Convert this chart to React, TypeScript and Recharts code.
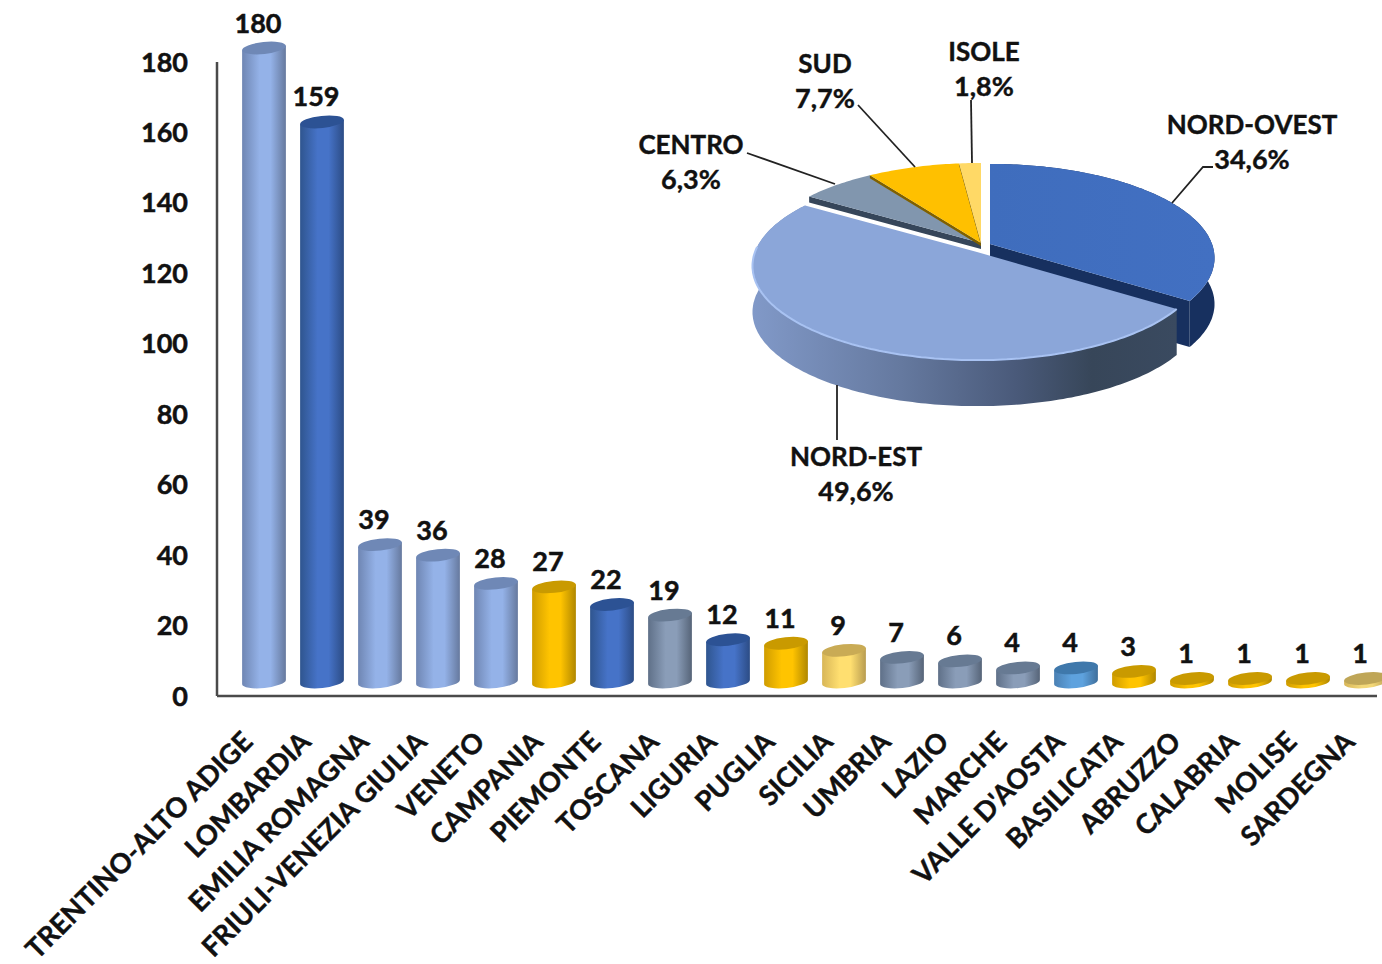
import { Bar, BarChart, LabelList, Pie, PieChart, XAxis, YAxis } from "recharts"

const categories = [
  "TRENTINO-ALTO ADIGE", "LOMBARDIA", "EMILIA ROMAGNA", "FRIULI-VENEZIA GIULIA", "VENETO",
  "CAMPANIA", "PIEMONTE", "TOSCANA", "LIGURIA", "PUGLIA",
  "SICILIA", "UMBRIA", "LAZIO", "MARCHE", "VALLE D'AOSTA",
  "BASILICATA", "ABRUZZO", "CALABRIA", "MOLISE", "SARDEGNA",
]
const values = [180, 159, 39, 36, 28, 27, 22, 19, 12, 11, 9, 7, 6, 4, 4, 3, 1, 1, 1, 1]
const tones = [
  "light", "blue", "light", "light", "light",
  "gold", "blue", "slate", "blue", "gold",
  "pale", "slate", "slate", "slate", "sky",
  "gold", "gold", "gold", "gold", "sand",
]
const yTicks = [0, 20, 40, 60, 80, 100, 120, 140, 160, 180]

const areas = ["NORD-OVEST", "NORD-EST", "CENTRO", "SUD", "ISOLE"]
const shares = [34.6, 49.6, 6.3, 7.7, 1.8]

const barRows = categories.map((name, i) => ({ name, value: values[i], tone: tones[i] }))
const pieRows = areas.map((name, i) => ({ name, value: shares[i] }))

// cylinder colours: edge, centre, far edge, cap
const palette: Record<string, string[]> = {
  light: ["#6f86b3", "#94b2e8", "#66799e", "#6f88b6"],
  blue: ["#2f558f", "#4673c8", "#2c4c85", "#2c5294"],
  gold: ["#cf9c00", "#ffc400", "#b08700", "#c99a00"],
  slate: ["#5f7088", "#8a9db8", "#566478", "#677a93"],
  pale: ["#d8b657", "#ffdf70", "#b89c50", "#c9ab55"],
  sky: ["#4a80b3", "#5ea2de", "#3f6f9c", "#3f78ab"],
  sand: ["#d8b657", "#f3d878", "#b89c50", "#bfa657"],
}

const FONT = "Lato, sans-serif"
const INK = "#111"
const TILT = -6
// the 3D floor sits up and to the right of the drawn axes
const SHIFT_X = 18
const SHIFT_Y = -14

function Cylinder(props: any) {
  const { x, y, width, height, tone } = props
  const rx = width / 2
  const ry = 6
  const cx = x + rx + SHIFT_X
  const top = y + SHIFT_Y
  const bottom = top + height
  const rad = (TILT * Math.PI) / 180
  const ex = rx * Math.cos(rad)
  const ey = rx * Math.sin(rad)
  const body = `M${cx - ex} ${top - ey} L${cx - ex} ${bottom - ey} A${rx} ${ry} ${TILT} 0 0 ${cx + ex} ${bottom + ey} L${cx + ex} ${top + ey} Z`
  return (
    <g>
      <path d={body} fill={`url(#bar-${tone})`} />
      <ellipse cx={cx} cy={top} rx={rx} ry={ry} fill={palette[tone][3]} transform={`rotate(${TILT} ${cx} ${top})`} />
    </g>
  )
}

function ValueLabel(props: any) {
  const { x, y, width, value } = props
  return (
    <text x={x + width / 2 + 12} y={y + SHIFT_Y - 26} textAnchor="middle" dominantBaseline="central" fontFamily={FONT} fontWeight={700} fontSize={27} fill={INK} stroke={INK} strokeWidth={0.5}>
      {value}
    </text>
  )
}

function CategoryTick(props: any) {
  const { x, y, payload } = props
  const ax = x + 1
  const ay = y + 32
  return (
    <text x={ax} y={ay} textAnchor="end" dominantBaseline="central" transform={`rotate(-45 ${ax} ${ay})`} fontFamily={FONT} fontWeight={700} fontSize={27.4} fill={INK} stroke={INK} strokeWidth={0.4}>
      {payload.value}
    </text>
  )
}

// pie seen from above: circle points pushed through a simple perspective
const PIE_RY = 92
const PIE_K = 0.149
const PIE_DEPTH = 46
const sliceOffset = [[9, 1], [-4, 9], [0, 0], [0, 0], [0, 0]]
const sliceTop = ["url(#pie-top-blue)", "#8ba6d9", "#8196ae", "#ffc000", "#ffd966"]
const sliceSide = ["#17305f", "url(#pie-wall)", "#36465a", "#7f6000", "#6a5a25"]
const sideDepth = [PIE_DEPTH, PIE_DEPTH, 6, 3, 2]

function project(cx: number, cy: number, r: number, deg: number) {
  const a = (deg * Math.PI) / 180
  const u = Math.sin(a)
  const v = -Math.cos(a)
  const w = 1 - PIE_K * v
  return [cx + (r * u) / w, cy + (PIE_RY * v) / w]
}

function rimPoints(cx: number, cy: number, r: number, from: number, to: number) {
  const pts: number[][] = []
  const steps = Math.max(4, Math.ceil(to - from))
  for (let i = 0; i <= steps; i++) pts.push(project(cx, cy, r, from + ((to - from) * i) / steps))
  return pts
}

const toPath = (pts: number[][]) => pts.map((p, i) => `${i ? "L" : "M"}${p[0].toFixed(1)} ${p[1].toFixed(1)}`).join(" ")

function PieSlice(props: any) {
  const { cx, cy, outerRadius, startAngle, endAngle, index } = props
  const [dx, dy] = sliceOffset[index]
  const ox = cx + dx
  const oy = cy + dy
  const from = 90 - startAngle
  const to = 90 - endAngle
  const rim = rimPoints(ox, oy, outerRadius, from, to)
  const depth = sideDepth[index]
  const down = (pts: number[][]) => pts.map((p) => [p[0], p[1] + depth])
  const wall = toPath([...rim, ...down(rim).reverse()]) + " Z"
  const last = rim[rim.length - 1]
  const first = rim[0]
  const big = index < 2
  // the cut face that shows: far edge for the big slices, leading edge for the small ones
  const cutEnd = big ? last : first
  const cut = toPath([[ox, oy], cutEnd, [cutEnd[0], cutEnd[1] + depth], [ox, oy + depth]]) + " Z"
  return (
    <g>
      {big && <path d={wall} fill={sliceSide[index]} />}
      {index !== 1 && <path d={cut} fill={sliceSide[index]} />}
      <path d={toPath([[ox, oy], ...rim]) + " Z"} fill={sliceTop[index]} />
      {index === 1 && <path d={toPath(rim.slice(0, 150))} fill="none" stroke="#a8c2f2" strokeWidth={2} />}
    </g>
  )
}

const calloutText = [[1252, 124], [856, 456], [691, 144], [825, 63], [984, 51]]
const calloutLine = [
  [[1172, 203], [1203, 167], [1213, 167]],
  [[837, 385], [837, 440]],
  [[747, 153], [835, 184]],
  [[858, 105], [915, 167]],
  [[971, 100], [972, 163]],
]

function PieCallout(props: any) {
  const { index, name, value } = props
  const [x, y] = calloutText[index]
  return (
    <g>
      <polyline points={calloutLine[index].map((p) => p.join(",")).join(" ")} fill="none" stroke="#222" strokeWidth={1.8} />
      <text x={x} y={y} textAnchor="middle" dominantBaseline="central" fontFamily={FONT} fontWeight={700} fontSize={26} fill={INK} stroke={INK} strokeWidth={0.4}>
        {name}
      </text>
      <text x={x} y={y + 34} textAnchor="middle" dominantBaseline="central" fontFamily={FONT} fontWeight={700} fontSize={27} fill={INK} stroke={INK} strokeWidth={0.4}>
        {value.toFixed(1).replace(".", ",")}%
      </text>
    </g>
  )
}

export default function App() {
  return (
    <div style={{ position: "absolute", left: 0, top: 0, width: 1382, height: 964, overflow: "hidden", background: "#fff" }}>
      <BarChart width={1382} height={964} data={barRows} barSize={44} margin={{ top: 62, right: 5, bottom: 0, left: 0 }}>
        <defs>
          {Object.keys(palette).map((k) => (
            <linearGradient key={k} id={`bar-${k}`} x1="0" y1="0" x2="1" y2="0">
              <stop offset="0" stopColor={palette[k][0]} />
              <stop offset="0.4" stopColor={palette[k][1]} />
              <stop offset="0.65" stopColor={palette[k][1]} />
              <stop offset="1" stopColor={palette[k][2]} />
            </linearGradient>
          ))}
        </defs>
        <XAxis dataKey="name" interval={0} height={268} tick={<CategoryTick />} tickLine={false} axisLine={{ stroke: "#4a4a4a", strokeWidth: 2.5 }} />
        <YAxis
          width={217}
          domain={[0, 180]}
          ticks={yTicks}
          interval={0}
          tickLine={false}
          tickMargin={23}
          axisLine={{ stroke: "#4a4a4a", strokeWidth: 2.5 }}
          tick={{ fontFamily: FONT, fontWeight: 700, fontSize: 27, fill: INK, stroke: INK, strokeWidth: 0.5 }}
        />
        <Bar dataKey="value" shape={<Cylinder />} isAnimationActive={false}>
          <LabelList dataKey="value" content={<ValueLabel />} />
        </Bar>
      </BarChart>
      <div style={{ position: "absolute", left: 0, top: 0 }}>
        <PieChart width={1382} height={964} margin={{ top: 0, right: 0, bottom: 0, left: 0 }}>
          <defs>
            <linearGradient id="pie-wall" x1="0" y1="0" x2="1" y2="0">
              <stop offset="0" stopColor="#8199c8" />
              <stop offset="0.35" stopColor="#65799f" />
              <stop offset="0.62" stopColor="#4a5a7a" />
              <stop offset="0.8" stopColor="#374659" />
              <stop offset="1" stopColor="#3a4a60" />
            </linearGradient>
            <linearGradient id="pie-top-blue" x1="0" y1="0" x2="1" y2="0">
              <stop offset="0" stopColor="#3f6dbd" />
              <stop offset="1" stopColor="#4270c2" />
            </linearGradient>
          </defs>
          <Pie
            data={pieRows}
            dataKey="value"
            nameKey="name"
            cx={981}
            cy={243}
            innerRadius={0}
            outerRadius={222}
            startAngle={90}
            endAngle={-270}
            stroke="none"
            shape={<PieSlice />}
            label={<PieCallout />}
            labelLine={false}
            isAnimationActive={false}
          />
        </PieChart>
      </div>
    </div>
  )
}
